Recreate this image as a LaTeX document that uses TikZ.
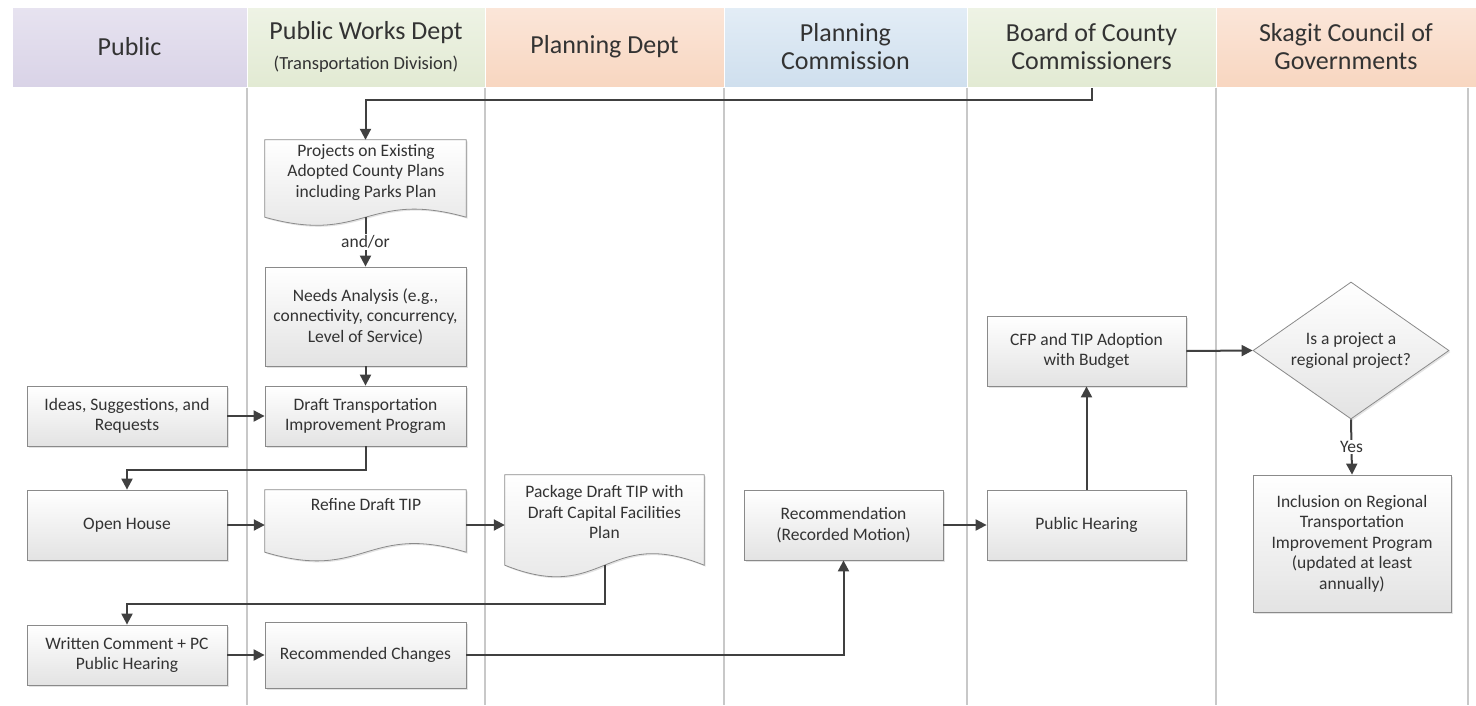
\documentclass[tikz,border=0pt]{standalone}
\usepackage{fontspec}
\setmainfont{Carlito}
\usetikzlibrary{arrows.meta,shapes.geometric,shadows,calc}
\definecolor{lanegray}{HTML}{C8C8C8}
\definecolor{linegray}{HTML}{404040}
\definecolor{boxborder}{HTML}{8A8A8A}
\definecolor{lavB}{HTML}{D9D3E7}\definecolor{lavT}{HTML}{E7E3F0}
\definecolor{grnB}{HTML}{E2EAD3}\definecolor{grnT}{HTML}{EEF3E5}
\definecolor{pchB}{HTML}{F8D6C0}\definecolor{pchT}{HTML}{FBE6D9}
\definecolor{bluB}{HTML}{CFDFEE}\definecolor{bluT}{HTML}{E3EDF6}
\begin{document}
\begin{tikzpicture}[x=1pt,y=-1pt,
  boxfont/.style={font=\fontsize{17.5}{20.5}\selectfont, text=black!80},
  boxshade/.style={draw=boxborder, line width=0.8pt, top color=white, bottom color=black!11,
     drop shadow={shadow xshift=1.5pt,shadow yshift=-1.5pt,opacity=0.22}},
  box/.style={boxshade, boxfont, align=center, inner sep=0pt},
  docframe/.style={inner sep=0pt, rectangle},
  txt/.style={boxfont, align=center, inner sep=0pt},
  hdr/.style={draw=white, line width=1pt, inner sep=0pt, align=center,
     minimum height=80pt, text=black!80, font=\fontsize{26}{28}\selectfont},
  lane/.style={draw=lanegray, line width=1.3pt},
  arr/.style={draw=linegray, line width=2pt, -{Triangle[length=11pt,width=11pt]}},
  lbl/.style={fill=white, boxfont, inner sep=1.5pt}
]
\useasboundingbox (0,0) rectangle (1476,705);

% lane dividers
\foreach \x in {247,485,724,967,1216,1468}
  \draw[lane] (\x,87) -- (\x,705);

% headers
\node[hdr, top color=lavT, bottom color=lavB, minimum width=235pt] (hPublic) at (129.5,47) {Public};
\node[hdr, top color=grnT, bottom color=grnB, minimum width=238pt] (hPW) at (366,47)
  {Public Works Dept\\[2pt]{\fontsize{18.5}{20}\selectfont(Transportation Division)}};
\node[hdr, top color=pchT, bottom color=pchB, minimum width=239pt] (hPD) at (604.5,47) {Planning Dept};
\node[hdr, top color=bluT, bottom color=bluB, minimum width=243pt] (hPC) at (845.5,47) {Planning\\Commission};
\node[hdr, top color=grnT, bottom color=grnB, minimum width=249pt] (hBC) at (1091.5,47) {Board of County\\Commissioners};
\node[hdr, top color=pchT, bottom color=pchB, minimum width=260pt] (hSC) at (1346,47) {Skagit Council of\\Governments};

% document shapes
\node[docframe, minimum width=201pt, minimum height=77pt] (projects) at (365.5,178.5) {};
\path[boxshade] (projects.south west) -- (projects.north west) -- (projects.north east) -- (projects.south east)
  .. controls +(-100,-28) and +(100,28) .. (projects.south west) -- cycle;
\node[txt] (projectsT) at (366,172) {Projects on Existing\\Adopted County Plans\\including Parks Plan};

\node[docframe, minimum width=201pt, minimum height=62pt] (refine) at (365.5,521) {};
\path[boxshade] (refine.south west) -- (refine.north west) -- (refine.north east) -- (refine.south east)
  .. controls +(-100,-30) and +(100,30) .. (refine.south west) -- cycle;
\node[txt] (refineT) at (366,505) {Refine Draft TIP};

\node[docframe, minimum width=199pt, minimum height=90pt] (package) at (604.5,520) {};
\path[boxshade] (package.south west) -- (package.north west) -- (package.north east) -- (package.south east)
  .. controls +(-99.5,-40) and +(99.5,40) .. (package.south west) -- cycle;
\node[txt] (packageT) at (604.5,512) {Package Draft TIP with\\Draft Capital Facilities\\Plan};

% process boxes
\node[box, minimum width=200pt, minimum height=60pt] (ideas) at (127,416) {Ideas, Suggestions, and\\Requests};
\node[box, minimum width=201pt, minimum height=60pt] (draft) at (365.5,416) {Draft Transportation\\Improvement Program};
\node[box, minimum width=201pt, minimum height=99pt] (needs) at (365.5,316.5) {Needs Analysis (e.g.,\\connectivity, concurrency,\\Level of Service)};
\node[box, minimum width=200pt, minimum height=70pt] (open) at (127,525) {Open House};
\node[box, minimum width=200pt, minimum height=60pt] (written) at (127,655) {Written Comment + PC\\Public Hearing};
\node[box, minimum width=201pt, minimum height=66pt] (recch) at (365.5,655) {Recommended Changes};
\node[box, minimum width=199pt, minimum height=70pt] (recom) at (843.5,525) {Recommendation\\(Recorded Motion)};
\node[box, minimum width=199pt, minimum height=70pt] (ph) at (1086.5,525) {Public Hearing};
\node[box, minimum width=199pt, minimum height=70pt] (cfp) at (1086.5,351) {CFP and TIP Adoption\\with Budget};
\node[box, diamond, minimum width=196pt, minimum height=137pt, aspect=1.43] (dia) at (1351,350.5) {Is a project a\\regional project?};
\node[box, minimum width=198pt, minimum height=137pt] (incl) at (1352,543.5) {Inclusion on Regional\\Transportation\\Improvement Program\\(updated at least\\annually)};

% connectors
\coordinate (bctop) at (1092,88);
\draw[arr] (bctop) -- ++(0,12) -| (projects.north);
\draw[arr] (projects.south) -- node[lbl] {and/or} (needs.north);
\draw[arr] (needs.south) -- (draft.north);
\draw[arr] (ideas.east) -- (draft.west);
\draw[arr] (draft.south) -- ++(0,24) -| (open.north);
\draw[arr] (open.east) -- (open.east -| refine.west);
\draw[arr] (open.east -| refine.east) -- (open.east -| package.west);
\draw[arr] (package.south) -- ++(0,39) -| (written.north);
\draw[arr] (written.east) -- (written.east -| recch.west);
\draw[arr] (recch.east) -| (recom.south);
\draw[arr] (recom.east) -- (ph.west);
\draw[arr] (ph.north) -- (cfp.south);
\draw[arr] (cfp.east) -- (dia.west);
\draw[arr] (dia.south) -- node[lbl] {Yes} (incl.north);
\end{tikzpicture}
\end{document}
